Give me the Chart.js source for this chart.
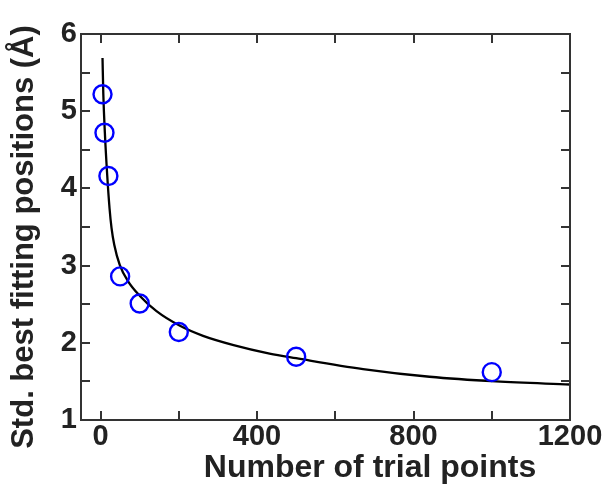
<!DOCTYPE html>
<html>
<head>
<meta charset="utf-8">
<script src="https://cdn.jsdelivr.net/npm/chart.js@4.4.1/dist/chart.umd.min.js"></script>
<style>
  html, body { margin: 0; padding: 0; background: #ffffff; }
  #wrap { width: 611px; height: 484px; }
</style>
</head>
<body>
<div id="wrap"><canvas id="c" width="611" height="484"></canvas></div>
<script>
// ---- data ----
const trialPoints = [5, 10, 20, 50, 100, 200, 500, 1000];
const stdValues   = [5.22, 4.72, 4.16, 2.86, 2.51, 2.14, 1.82, 1.62];

const fitX = [5, 7, 11, 17, 23, 28, 35, 49, 70, 100, 143, 203, 262, 340, 432, 500, 671, 841, 1011, 1200];
const fitY = [5.69, 5.23, 4.72, 4.17, 3.74, 3.49, 3.27, 3.01, 2.80, 2.61, 2.41, 2.22, 2.09, 1.97, 1.86, 1.80, 1.66, 1.56, 1.50, 1.46];

const xTickValues = [0, 200, 400, 600, 800, 1000, 1200];
const xLabelValues = [0, 400, 800, 1200];
const yLabelValues = [1, 2, 3, 4, 5, 6];

const xTitle = 'Number of trial points';
const yTitle = 'Std. best fitting positions (Å)';

const axisColor = '#333333';
const textColor = '#222222';
const fontFamily = '"Liberation Sans", Arial, Helvetica, sans-serif';

const frameAndTicks = {
  id: 'frameAndTicks',
  afterDatasetsDraw(chart) {
    const { ctx, chartArea: a, scales: { x, y } } = chart;
    const L = 9;
    ctx.save();
    ctx.strokeStyle = axisColor;
    ctx.lineWidth = 2;
    ctx.lineCap = 'butt';
    ctx.strokeRect(a.left, a.top, a.right - a.left, a.bottom - a.top);
    ctx.beginPath();
    xTickValues.forEach(v => {
      const px = Math.round(x.getPixelForValue(v));
      ctx.moveTo(px, a.bottom); ctx.lineTo(px, a.bottom - L);
      ctx.moveTo(px, a.top); ctx.lineTo(px, a.top + L);
    });
    y.ticks.forEach(t => {
      const py = Math.round(y.getPixelForValue(t.value));
      ctx.moveTo(a.left, py); ctx.lineTo(a.left + L, py);
      ctx.moveTo(a.right, py); ctx.lineTo(a.right - L, py);
    });
    ctx.stroke();
    // axis titles
    ctx.fillStyle = textColor;
    ctx.textAlign = 'center';
    ctx.font = 'bold 32px ' + fontFamily;
    ctx.textBaseline = 'alphabetic';
    ctx.fillText(xTitle, 370, 477);
    ctx.save();
    ctx.translate(24, 237);
    ctx.rotate(-Math.PI / 2);
    ctx.font = 'bold 31px ' + fontFamily;
    ctx.textBaseline = 'middle';
    ctx.fillText(yTitle, 0, 0);
    ctx.restore();
    ctx.restore();
  }
};

new Chart(document.getElementById('c'), {
  type: 'scatter',
  data: {
    datasets: [
      {
        label: 'fit',
        data: fitX.map((v, i) => ({ x: v, y: fitY[i] })),
        showLine: true,
        borderColor: '#000000',
        borderWidth: 2.3,
        pointRadius: 0,
        cubicInterpolationMode: 'monotone',
        fill: false,
        order: 2
      },
      {
        label: 'std',
        data: trialPoints.map((v, i) => ({ x: v, y: stdValues[i] })),
        showLine: false,
        pointStyle: 'circle',
        pointRadius: 9,
        pointBorderWidth: 2.4,
        pointBorderColor: '#0000ff',
        pointBackgroundColor: 'rgba(0,0,0,0)',
        order: 1
      }
    ]
  },
  options: {
    responsive: false,
    animation: false,
    devicePixelRatio: 1,
    layout: { padding: { top: 34, right: 41, bottom: 0, left: 0 } },
    plugins: { legend: { display: false }, tooltip: { enabled: false }, title: { display: false } },
    scales: {
      x: {
        type: 'linear',
        min: -50,
        max: 1200,
        afterBuildTicks: s => { s.ticks = xTickValues.map(v => ({ value: v })); },
        afterFit: s => { s.height = 64; },
        grid: { display: false, drawTicks: false },
        border: { display: false },
        ticks: {
          padding: 0,
          maxRotation: 0,
          autoSkip: false,
          color: textColor,
          font: { family: fontFamily, size: 29, weight: 'bold' },
          callback: v => xLabelValues.includes(v) ? String(v) : ''
        }
      },
      y: {
        type: 'linear',
        min: 1,
        max: 6,
        afterFit: s => { s.width = 81; },
        grid: { display: false, drawTicks: false },
        border: { display: false },
        ticks: {
          stepSize: 0.5,
          padding: 4,
          autoSkip: false,
          color: textColor,
          font: { family: fontFamily, size: 29, weight: 'bold' },
          callback: v => yLabelValues.includes(v) ? String(v) : ''
        }
      }
    }
  },
  plugins: [frameAndTicks]
});
</script>
</body>
</html>
